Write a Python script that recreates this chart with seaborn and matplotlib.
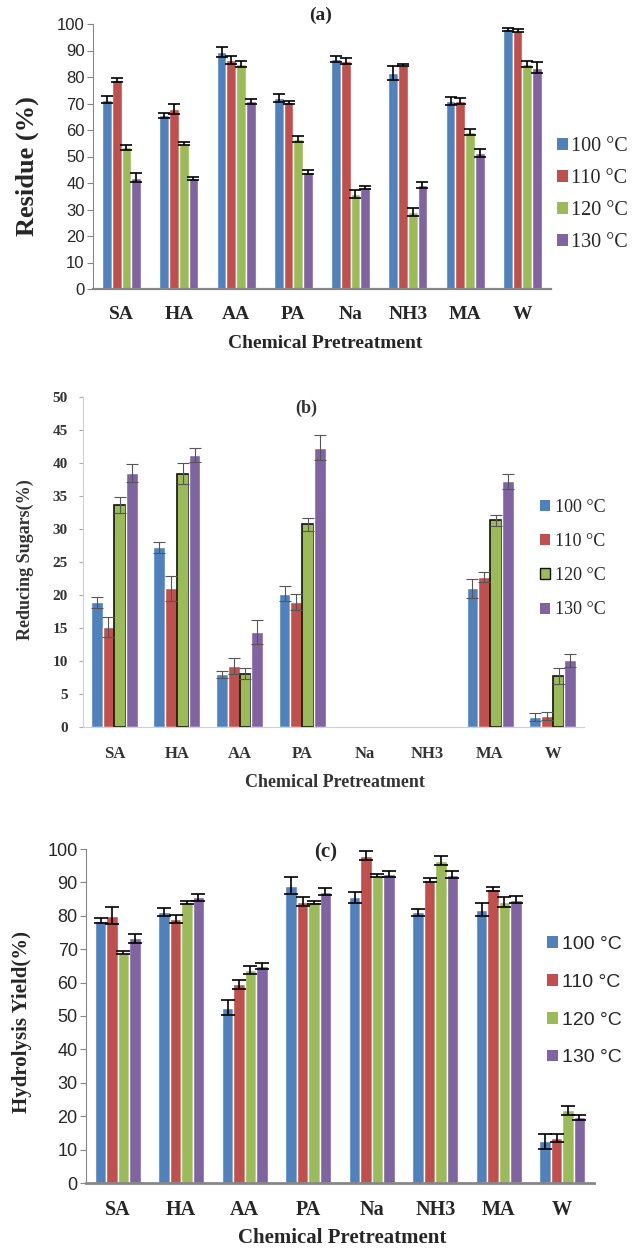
import numpy as np
import pandas as pd
import matplotlib
matplotlib.use("Agg")
import matplotlib.pyplot as plt
import seaborn as sns
from matplotlib.patches import Patch
from matplotlib.container import BarContainer

# ---------------- data ----------------
categories = ["SA", "HA", "AA", "PA", "Na", "NH3", "MA", "W"]
temps = ["100 °C", "110 °C", "120 °C", "130 °C"]
colors = ["#4F81BD", "#C0504D", "#9BBB59", "#8064A2"]

# (a) Residue (%)
res_100 = [71.5, 65.5, 89.5, 72.2, 86.8, 81.5, 71.0, 98.0]
res_110 = [79.0, 68.0, 86.5, 70.5, 86.0, 84.5, 71.0, 97.5]
res_120 = [53.5, 54.8, 84.8, 56.5, 36.0, 29.2, 59.3, 84.8]
res_130 = [42.0, 41.8, 70.8, 44.2, 38.2, 39.2, 51.5, 83.5]
res_err_100 = [1.2, 1.0, 2.0, 1.5, 1.0, 2.5, 1.5, 0.6]
res_err_110 = [0.8, 2.0, 1.5, 0.5, 1.2, 0.5, 1.2, 0.6]
res_err_120 = [1.0, 0.5, 1.2, 1.2, 1.5, 1.5, 1.2, 1.2]
res_err_130 = [1.8, 0.5, 1.0, 0.8, 0.6, 1.0, 1.5, 2.0]

# (b) Reducing Sugars (%)
rs_100 = [18.9, 27.2, 8.0, 20.2, 0.0, 0.0, 21.0, 1.5]
rs_110 = [15.2, 21.0, 9.3, 18.9, 0.0, 0.0, 22.7, 1.7]
rs_120 = [33.7, 38.4, 8.1, 30.7, 0.0, 0.0, 31.3, 7.7]
rs_130 = [38.5, 41.2, 14.4, 42.3, 0.0, 0.0, 37.2, 10.1]
rs_err_100 = [0.8, 0.9, 0.5, 1.1, 0.0, 0.0, 1.5, 0.6]
rs_err_110 = [1.5, 1.9, 1.2, 1.2, 0.0, 0.0, 0.8, 0.6]
rs_err_120 = [1.2, 1.6, 0.8, 1.0, 0.0, 0.0, 0.8, 1.2]
rs_err_130 = [1.4, 1.0, 1.8, 1.9, 0.0, 0.0, 1.2, 1.0]

# (c) Hydrolysis Yield (%)
hy_100 = [78.5, 81.0, 52.5, 89.0, 85.5, 81.0, 81.8, 12.5]
hy_110 = [80.0, 79.0, 59.5, 84.2, 98.0, 90.7, 88.0, 13.5]
hy_120 = [69.0, 84.0, 63.8, 84.0, 92.0, 96.5, 84.0, 21.8]
hy_130 = [73.3, 85.5, 65.0, 87.2, 92.5, 92.3, 84.8, 19.7]
hy_err_100 = [0.8, 1.2, 2.2, 2.5, 1.7, 1.0, 2.0, 2.2]
hy_err_110 = [2.5, 1.2, 1.3, 1.3, 1.4, 0.7, 0.7, 1.3]
hy_err_120 = [0.5, 0.5, 1.3, 0.5, 0.5, 1.4, 1.5, 1.3]
hy_err_130 = [1.3, 1.0, 1.0, 1.0, 1.0, 1.0, 1.0, 0.8]

sns.set_theme(style="white")
plt.rcParams["font.family"] = ["Liberation Sans", "DejaVu Sans"]
SERIF = ["Liberation Serif", "DejaVu Serif"]
SANS = ["Liberation Sans", "DejaVu Sans"]

W, H = 637, 1251
fig = plt.figure(figsize=(W / 100, H / 100), dpi=100)


def rect(left, right, top, bottom):
    return [left / W, (H - bottom) / H, (right - left) / W, (bottom - top) / H]


def make_df(series):
    rows = []
    for t, vals in zip(temps, series):
        for c, v in zip(categories, vals):
            rows.append({"Pretreatment": c, "Temp": t, "value": v})
    return pd.DataFrame(rows)


def bar_containers(ax):
    return [c for c in ax.containers if isinstance(c, BarContainer)]


def panel(ax, series, errs, width, ecolor, elw, capsize):
    df = make_df(series)
    sns.barplot(data=df, x="Pretreatment", y="value", hue="Temp",
                order=categories, hue_order=temps, palette=colors,
                width=width, errorbar=None, saturation=1, ax=ax,
                legend=False)
    for cont, err in zip(list(bar_containers(ax)), errs):
        xs, ys, es = [], [], []
        for bar, e in zip(cont.patches, err):
            if bar.get_height() > 0:
                xs.append(bar.get_x() + bar.get_width() / 2)
                ys.append(bar.get_height())
                es.append(e)
        ax.errorbar(xs, ys, yerr=es, fmt="none", ecolor=ecolor,
                    elinewidth=elw, capsize=capsize, capthick=elw, zorder=5)
    ax.set_xlim(-0.5, len(categories) - 0.5)
    for s in ["top", "right"]:
        ax.spines[s].set_visible(False)


def legend(ax, x, y, fontfamily, fontsize, spacing, hl, tpad, edge=None):
    handles = []
    for i, cont in enumerate(bar_containers(ax)):
        fc = cont.patches[0].get_facecolor()
        ec = edge[i] if edge else "none"
        handles.append(Patch(facecolor=fc, edgecolor=ec, linewidth=1.0))
    ax.legend(handles, temps, loc="upper left",
              bbox_to_anchor=(x / W, 1 - y / H), bbox_transform=fig.transFigure,
              frameon=False, borderpad=0, borderaxespad=0,
              handlelength=hl, handleheight=hl, handletextpad=tpad,
              labelspacing=spacing,
              prop={"family": fontfamily, "size": fontsize})


# ---------------- (a) ----------------
axa = fig.add_axes(rect(93, 551, 24, 289))
panel(axa, [res_100, res_110, res_120, res_130],
      [res_err_100, res_err_110, res_err_120, res_err_130],
      0.68, "black", 1.2, 4.5)
axa.set_ylim(0, 100)
axa.set_yticks(np.arange(0, 101, 10))
axa.spines["left"].set_color("#868686")
axa.spines["left"].set_linewidth(0.8)
axa.spines["bottom"].set_color("#868686")
axa.spines["bottom"].set_linewidth(1.6)
axa.tick_params(axis="y", left=True, length=4, width=0.8, color="#868686",
                labelsize=12, pad=2)
axa.tick_params(axis="x", length=0, pad=12)
for lab in axa.get_yticklabels():
    lab.set_family(SANS)
for lab in axa.get_xticklabels():
    lab.set_family(SERIF); lab.set_fontweight("bold"); lab.set_fontsize(14)
axa.set_ylabel("Residue (%)", family=SERIF, fontweight="bold", fontsize=19,
               ha="center", va="center")
axa.yaxis.set_label_coords(-0.144, 0.464)
axa.set_xlabel("Chemical Pretreatment", family=SERIF, fontweight="bold",
               fontsize=14, ha="center", va="center")
axa.xaxis.set_label_coords(0.507, -0.204)
axa.text(0.496, 1.034, "(a)", transform=axa.transAxes, ha="center", va="center",
         family=SERIF, fontweight="bold", fontsize=14)
legend(axa, 557, 137, SERIF, 14.5, 0.65, 0.55, 0.15)

# ---------------- (b) ----------------
axb = fig.add_axes(rect(83, 584, 397, 727))
panel(axb, [rs_100, rs_110, rs_120, rs_130],
      [rs_err_100, rs_err_110, rs_err_120, rs_err_130],
      0.75, "#555555", 0.8, 4)
for bar in bar_containers(axb)[2].patches:
    if bar.get_height() > 0:
        bar.set_edgecolor("#111111"); bar.set_linewidth(1.2)
axb.set_ylim(0, 50)
axb.set_yticks(np.arange(0, 51, 5))
for s in ["left", "bottom"]:
    axb.spines[s].set_color("#d0d0d0")
    axb.spines[s].set_linewidth(0.8)
axb.tick_params(axis="y", left=True, length=3, width=0.8, color="#aaaaaa",
                labelsize=11, labelcolor="#333333", pad=8)
axb.tick_params(axis="x", length=0, pad=14, labelcolor="#333333")
for lab in axb.get_yticklabels():
    lab.set_family(SERIF); lab.set_fontweight("bold")
for lab in axb.get_xticklabels():
    lab.set_family(SERIF); lab.set_fontweight("bold"); lab.set_fontsize(12)
axb.set_ylabel("Reducing Sugars(%)", family=SERIF, fontweight="bold",
               fontsize=13, color="#333333", ha="center", va="center")
axb.yaxis.set_label_coords(-0.116, 0.506)
axb.set_xlabel("Chemical Pretreatment", family=SERIF, fontweight="bold",
               fontsize=13, color="#333333", ha="center", va="center")
axb.xaxis.set_label_coords(0.502, -0.167)
axb.text(0.446, 0.967, "(b)", transform=axb.transAxes, ha="center", va="center",
         family=SERIF, fontweight="bold", fontsize=13, color="#333333")
legend(axb, 540, 499, SERIF, 13, 0.95, 0.55, 0.3,
       edge=["none", "none", "#111111", "none"])

# ---------------- (c) ----------------
axc = fig.add_axes(rect(86, 594, 849, 1183))
panel(axc, [hy_100, hy_110, hy_120, hy_130],
      [hy_err_100, hy_err_110, hy_err_120, hy_err_130],
      0.72, "black", 1.2, 5)
axc.set_ylim(0, 100)
axc.set_yticks(np.arange(0, 101, 10))
axc.spines["left"].set_color("#868686")
axc.spines["left"].set_linewidth(0.8)
axc.spines["bottom"].set_color("#868686")
axc.spines["bottom"].set_linewidth(2.0)
axc.tick_params(axis="y", left=True, length=4, width=0.8, color="#868686",
                labelsize=13, pad=2)
axc.tick_params(axis="x", length=0, pad=12)
for lab in axc.get_yticklabels():
    lab.set_family(SANS)
for lab in axc.get_xticklabels():
    lab.set_family(SERIF); lab.set_fontweight("bold"); lab.set_fontsize(14.5)
axc.set_ylabel("Hydrolysis Yield(%)", family=SERIF, fontweight="bold",
               fontsize=15, ha="center", va="center")
axc.yaxis.set_label_coords(-0.126, 0.482)
axc.set_xlabel("Chemical Pretreatment", family=SERIF, fontweight="bold",
               fontsize=15, ha="center", va="center")
axc.xaxis.set_label_coords(0.504, -0.165)
axc.text(0.472, 0.991, "(c)", transform=axc.transAxes, ha="center", va="center",
         family=SERIF, fontweight="bold", fontsize=15)
legend(axc, 547, 936, SANS, 14, 1.07, 0.55, 0.2)

fig.savefig("out.png", dpi=100)
